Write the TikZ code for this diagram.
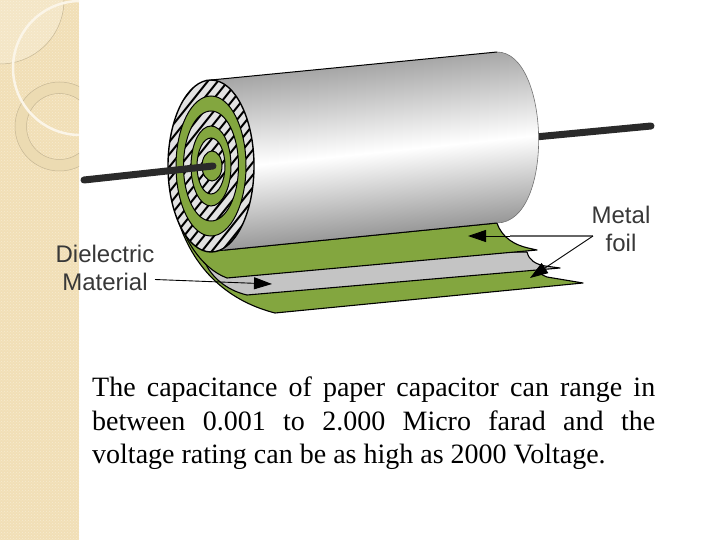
\documentclass[tikz,border=0pt]{standalone}
\usepackage{fontspec}
\setmainfont{Liberation Serif}
\newfontfamily\labelfont{Liberation Sans}
\usetikzlibrary{patterns,arrows.meta}
\definecolor{panel}{HTML}{F1DFB6}
\definecolor{panellight}{HTML}{F7EBD0}
\definecolor{foilgreen}{HTML}{83A63F}
\definecolor{foilgray}{HTML}{C4C4C4}
\definecolor{hatchgray}{HTML}{E2E2E2}
\definecolor{leadblack}{HTML}{2A2A2A}
\tikzset{
  sheet/.style={draw=black,line width=1.1pt,line join=round},
  ringgreen/.style={fill=foilgreen,draw=black,line width=1pt},
  lead/.style={draw=leadblack,line width=7pt,line cap=round},
  pointer/.style={draw=black,line width=0.9pt,-{Triangle[length=18pt,width=12pt,fill=black]}},
  capt/.style={font=\labelfont\fontsize{24}{28.5}\selectfont,text=black!78,align=center,inner sep=0pt}
}
\newcommand{\hatchell}[1]{%
  \fill[hatchgray] (211,166) ellipse [x radius=#1/2, y radius=#1];
  \begin{scope}
    \clip (211,166) ellipse [x radius=#1/2, y radius=#1];
    \foreach \hx in {0,10,...,300}{\draw[black,line width=2pt] (\hx,266) -- (\hx+160,66);}
  \end{scope}}
\begin{document}
\begin{tikzpicture}[x=1pt,y=-1pt]
\useasboundingbox (0,0) rectangle (720,540);
% side panel
\fill[panel] (0,0) rectangle (79,540);
\fill[pattern=crosshatch dots,pattern color=panellight] (0,0) rectangle (79,540);
\begin{scope}
  \clip (0,0) rectangle (79,540);
  \fill[white,opacity=0.22] (0,0) circle (64);
  \draw[black!18!panel,line width=0.5pt] (0,0) circle (64);
  \fill[even odd rule,fill=black!2!panel] (59.5,126.5) circle (44.5) (59.5,126.5) circle (33);
  \draw[black!18!panel,line width=0.5pt] (59.5,126.5) circle (44.5) (59.5,126.5) circle (33);
  \draw[panellight!50!white,line width=2.5pt] (80,68) circle (67);
\end{scope}
% right lead
\draw[lead] (530,137.5) -- (651,126);
% foil sheets
\draw[sheet,fill=foilgreen] (172,196) .. controls (180,240) and (205,295) .. (275,313) -- (583,283) -- (547,277)
  .. controls (541,275) and (538,272) .. (536,266) -- (300,270) -- (215,270) -- cycle;
\draw[sheet,fill=foilgray] (205,262) .. controls (210,275) and (225,290) .. (247,295) -- (560,268) -- (545,266)
  .. controls (535,264) and (529,260) .. (527,252) -- (300,255) -- cycle;
\draw[sheet,fill=foilgreen] (172,196) .. controls (180,235) and (200,268) .. (227,278) -- (537,250) -- (528,248)
  .. controls (515,245) and (502,238) .. (497,223) -- (225,250) -- cycle;
% cylinder
\shade[top color=black!42,bottom color=black!52,middle color=white,shading angle=6]
  (211,80) -- (497,52) .. controls (550,52) and (555,222) .. (497,223) -- (215,251) -- cycle;
\draw[black,line width=1pt] (211,80) -- (497,52);
\draw[black,line width=1pt] (215,251) -- (497,223);
\draw[black!55,line width=0.6pt] (497,52) .. controls (550,52) and (555,222) .. (497,223);
% end face
\hatchell{86}
\draw[black,line width=1.4pt] (211,166) ellipse [x radius=43, y radius=86];
\draw[ringgreen] (211,166) ellipse [x radius=35, y radius=70];
\hatchell{55}
\draw[black,line width=1pt] (211,166) ellipse [x radius=27.5, y radius=55];
\draw[ringgreen] (211,166) ellipse [x radius=20, y radius=40];
\hatchell{28}
\draw[black,line width=1pt] (211,166) ellipse [x radius=14, y radius=28];
\draw[ringgreen] (212,166) ellipse [x radius=10, y radius=15];
% left lead
\draw[lead] (84,180) -- (213,166);
% labels
\node[capt] (dielectric) at (105,268) {Dielectric\\Material};
\node[capt] (metal) at (621,229) {Metal\\foil};
\coordinate (dielectrictip) at (272,284);
\coordinate (dielectricstart) at (155,279.5);
\coordinate (metalstart) at (593,236);
\coordinate (foiltop) at (468,236);
\coordinate (foillow) at (530,278);
\draw[pointer] (dielectricstart) -- (dielectrictip);
\draw[black!60,line width=1.6pt] (metalstart) -- (510,236);
\draw[pointer] (510,236) -- (foiltop);
\draw[pointer] (metalstart) -- (foillow);
% body text
\node[anchor=north west,inner sep=0pt,text width=563pt,align=justify,font=\fontsize{28}{33.5}\selectfont] (body) at (92,377)
  {The capacitance of paper capacitor can range in\linebreak between 0.001 to 2.000 Micro farad and the\linebreak voltage rating can be as high as 2000 Voltage.};
\end{tikzpicture}
\end{document}
